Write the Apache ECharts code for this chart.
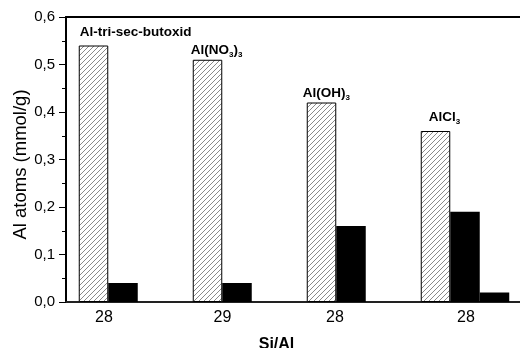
<!DOCTYPE html>
<html>
<head>
<meta charset="utf-8">
<script src="https://cdn.jsdelivr.net/npm/echarts@6/dist/echarts.min.js"></script>
<style>html,body{margin:0;padding:0;background:#fff;}#c{width:520px;height:348px;}</style>
</head>
<body>
<div id="c"></div>
<script>
// ---- data ----
var siAlRatio = ['28', '29', '28', '28'];
var sourceNames = ['Al-tri-sec-butoxid', 'Al(NO₃)₃', 'Al(OH)₃', 'AlCl₃'];
var totalAl = [0.54, 0.51, 0.42, 0.36];
var framAl = [0.04, 0.04, 0.16, 0.19];
var extraAl = [null, null, null, 0.02];
var yTicks = [0, 0.1, 0.2, 0.3, 0.4, 0.5, 0.6];

// ---- styling (not data) ----
var FONT = 'Liberation Sans, Arial, sans-serif';
var xLabelShift = [-19, -14.5, -16, 1];
var srcLabelOffset = [[1, -5], [-2, -1], [-4, -1], [8, -5]];

function hatch() {
  var c = document.createElement('canvas');
  c.width = 5; c.height = 5;
  var g = c.getContext('2d');
  g.fillStyle = '#fff'; g.fillRect(0, 0, 5, 5);
  g.fillStyle = '#8a8a8a';
  for (var i = 0; i < 5; i++) g.fillRect(i, 4 - i, 1, 1);
  return c;
}

function richName(s) {
  return s.split(/(₃)/).map(function (p) {
    if (!p) return '';
    return p === '₃' ? '{s|3}' : '{n|' + p + '}';
  }).join('');
}

var xRich = {};
xLabelShift.forEach(function (d, i) {
  xRich['l' + i] = {
    fontSize: 16, fontFamily: FONT, color: '#000',
    padding: d < 0 ? [0, -2 * d, 0, 0] : [0, 0, 0, 2 * d]
  };
});

var hatchData = totalAl.map(function (v, i) {
  return {
    value: v,
    label: {
      show: true,
      position: [0, 0],
      offset: srcLabelOffset[i],
      align: 'left',
      verticalAlign: 'bottom',
      formatter: richName(sourceNames[i]),
      rich: {
        n: {fontSize: 13.5, fontWeight: 'bold', fontFamily: FONT, color: '#000', lineHeight: 17},
        s: {fontSize: 8, fontWeight: 'bold', fontFamily: FONT, color: '#000', lineHeight: 17, verticalAlign: 'bottom'}
      }
    }
  };
});

var chart = echarts.init(document.getElementById('c'), null, {renderer: 'canvas'});
chart.setOption({
  animation: false,
  backgroundColor: '#fff',
  grid: {left: 66, right: -2, top: 17, bottom: 46, containLabel: false, outerBoundsMode: 'none'},
  xAxis: [{
    type: 'category',
    data: siAlRatio,
    name: 'Si/Al',
    nameLocation: 'middle',
    nameGap: 34.5,
    nameMoveOverlap: false,
    nameTextStyle: {fontSize: 16, fontWeight: 'bold', fontFamily: FONT, color: '#000', padding: [0, 35, 0, 0]},
    axisLine: {lineStyle: {color: '#222', width: 2}},
    axisTick: {show: true, inside: true, length: 3, alignWithLabel: true, lineStyle: {color: '#666'}},
    axisLabel: {
      margin: 8,
      formatter: function (v, i) { return '{l' + i + '|' + v + '}'; },
      rich: xRich
    }
  }, {
    type: 'category',
    data: siAlRatio,
    position: 'top',
    axisLine: {lineStyle: {color: '#000', width: 2}},
    axisTick: {show: false},
    axisLabel: {show: false}
  }],
  yAxis: {
    type: 'value',
    min: yTicks[0],
    max: yTicks[yTicks.length - 1],
    interval: 0.1,
    name: 'Al atoms (mmol/g)',
    nameLocation: 'middle',
    nameGap: 36,
    nameMoveOverlap: false,
    nameRotate: 90,
    nameTextStyle: {fontSize: 18.5, fontFamily: FONT, color: '#000', padding: [0, 10, 0, 0]},
    axisLine: {show: true, lineStyle: {color: '#000', width: 2}},
    axisTick: {show: true, length: 7, lineStyle: {color: '#000', width: 1}},
    minorTick: {show: true, splitNumber: 2, length: 4, lineStyle: {color: '#000', width: 1}},
    splitLine: {show: false},
    axisLabel: {
      margin: 11, fontSize: 15, fontFamily: FONT, color: '#000',
      formatter: function (v) { return v.toFixed(1).replace('.', ','); }
    }
  },
  series: [{
    type: 'bar',
    data: hatchData,
    barWidth: 29.5,
    barGap: '0%',
    itemStyle: {color: {image: hatch(), repeat: 'repeat'}, borderColor: '#000', borderWidth: 1}
  }, {
    type: 'bar',
    data: framAl,
    barWidth: 29.5,
    barGap: '0%',
    itemStyle: {color: '#000'}
  }, {
    type: 'bar',
    data: extraAl,
    barWidth: 29.5,
    barGap: '0%',
    itemStyle: {color: '#000'}
  }]
});
</script>
</body>
</html>
